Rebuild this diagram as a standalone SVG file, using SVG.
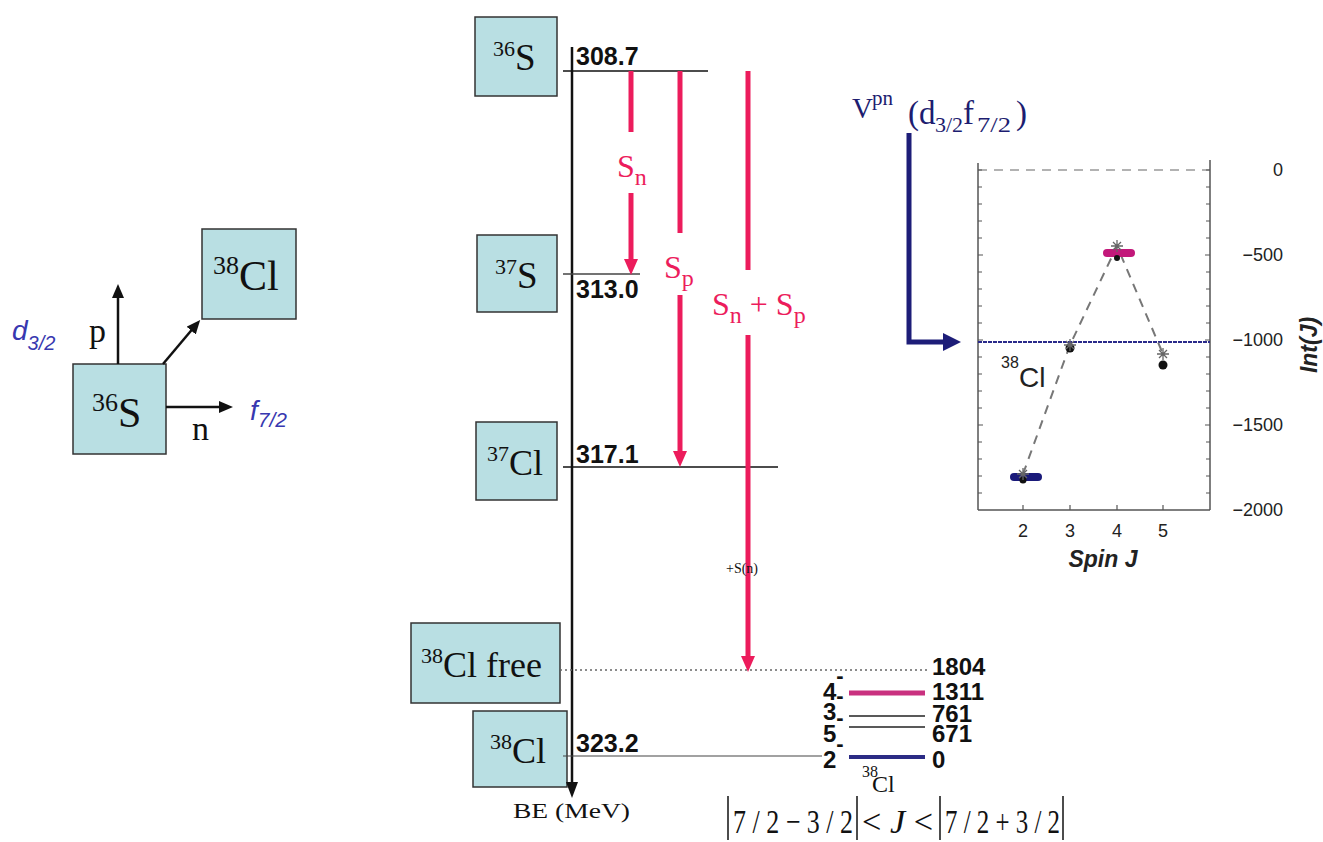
<svg xmlns="http://www.w3.org/2000/svg" width="1323" height="842" viewBox="0 0 1323 842">
<style>
.box{fill:#b9dfe3;stroke:#333;stroke-width:1.5}
.ser{font-family:"Liberation Serif","Times New Roman",serif;fill:#111}
.num{font-family:"Liberation Sans",Arial,sans-serif;font-weight:bold;font-size:25px;fill:#111}
.lvl{font-family:"Liberation Sans",Arial,sans-serif;font-weight:bold;font-size:24px;fill:#111}
.red{font-family:"Liberation Serif","Times New Roman",serif;fill:#ec1c5c}
.blu{font-family:"Liberation Sans",Arial,sans-serif;font-style:italic;fill:#3838b0}
.navy{font-family:"Liberation Serif","Times New Roman",serif;fill:#1d1d70}
.ax{font-family:"Liberation Sans",Arial,sans-serif;fill:#222}
.blk{stroke:#111;stroke-width:2.5;fill:none}
.rarr{stroke:#ec1c5c;stroke-width:5;fill:none}
.tick{stroke:#555;stroke-width:1.2}
</style>
<defs>
<marker id="ab" markerUnits="userSpaceOnUse" markerWidth="14" markerHeight="12" refX="6" refY="6" orient="auto"><path d="M0,0 L14,6 L0,12 z" fill="#111"/></marker>
<marker id="ar" markerUnits="userSpaceOnUse" markerWidth="16" markerHeight="14" refX="8" refY="7" orient="auto"><path d="M0,0 L16,7 L0,14 z" fill="#ec1c5c"/></marker>
<marker id="ak" markerUnits="userSpaceOnUse" markerWidth="16" markerHeight="12" refX="8" refY="6" orient="auto"><path d="M0,0 L16,6 L0,12 z" fill="#111"/></marker>
<marker id="an" markerUnits="userSpaceOnUse" markerWidth="18" markerHeight="18" refX="9" refY="9" orient="auto"><path d="M0,0 L18,9 L0,18 z" fill="#1d1d78"/></marker>
</defs>

<g id="left-36S">
<rect class="box" x="73" y="364" width="93" height="90"/>
<text class="ser" x="92" y="427"><tspan font-size="26" dy="-16">36</tspan><tspan font-size="42" dy="16">S</tspan></text>
</g>
<g id="left-38Cl">
<rect class="box" x="202" y="229" width="94" height="90"/>
<text class="ser" x="213" y="290"><tspan font-size="26" dy="-16">38</tspan><tspan font-size="42" dy="16">Cl</tspan></text>
</g>
<g id="left-labels">
<text class="ser" x="89" y="342" font-size="34">p</text>
<text class="ser" x="192" y="440" font-size="34">n</text>
<text class="blu" x="12" y="340" font-size="28">d<tspan font-size="20" dy="10">3/2</tspan></text>
<text class="blu" x="250" y="420" font-size="28">f<tspan font-size="21" dy="7">7/2</tspan></text>
</g>
<g id="left-connectors">
<line class="blk" x1="118" y1="364" x2="118" y2="292" marker-end="url(#ab)"/>
<line class="blk" x1="163" y1="364" x2="195" y2="326" marker-end="url(#ab)"/>
<line class="blk" x1="166" y1="407" x2="225" y2="407" marker-end="url(#ab)"/>
</g>

<g id="node-36S">
<rect class="box" x="475" y="17" width="82" height="79"/>
<text class="ser" x="493" y="70"><tspan font-size="22" dy="-14">36</tspan><tspan font-size="37" dy="14">S</tspan></text>
</g>
<g id="node-37S">
<rect class="box" x="477" y="235" width="80" height="77"/>
<text class="ser" x="495" y="288"><tspan font-size="22" dy="-14">37</tspan><tspan font-size="37" dy="14">S</tspan></text>
</g>
<g id="node-37Cl">
<rect class="box" x="476" y="422" width="81" height="78"/>
<text class="ser" x="487" y="475"><tspan font-size="22" dy="-14">37</tspan><tspan font-size="36" dy="14">Cl</tspan></text>
</g>
<g id="node-38Cl-free">
<rect class="box" x="411" y="623" width="149" height="80"/>
<text class="ser" x="421" y="677"><tspan font-size="22" dy="-14">38</tspan><tspan font-size="36" dy="14">Cl free</tspan></text>
</g>
<g id="node-38Cl">
<rect class="box" x="473" y="711" width="94" height="76"/>
<text class="ser" x="490" y="763"><tspan font-size="22" dy="-14">38</tspan><tspan font-size="36" dy="14">Cl</tspan></text>
</g>

<g id="connectors">
<line class="blk" x1="572" y1="47" x2="572" y2="790" marker-end="url(#ak)" stroke-width="2"/>
<line x1="563" y1="71" x2="708" y2="71" stroke="#111" stroke-width="1.5"/>
<line x1="563" y1="274" x2="640" y2="274" stroke="#444" stroke-width="1.5"/>
<line x1="563" y1="467" x2="778" y2="467" stroke="#111" stroke-width="1.5"/>
<line x1="560" y1="670" x2="927" y2="670" stroke="#666" stroke-width="1.5" stroke-dasharray="2,3"/>
<line x1="563" y1="756" x2="822" y2="756" stroke="#444" stroke-width="1.2"/>
<line class="rarr" x1="631" y1="71" x2="631" y2="132"/>
<line class="rarr" x1="631" y1="193" x2="631" y2="267" marker-end="url(#ar)"/>
<line class="rarr" x1="680" y1="71" x2="680" y2="233"/>
<line class="rarr" x1="680" y1="295" x2="680" y2="459" marker-end="url(#ar)"/>
<line class="rarr" x1="748" y1="71" x2="748" y2="270" stroke-width="4.5"/>
<line class="rarr" x1="748" y1="335" x2="748" y2="664" stroke-width="4.5" marker-end="url(#ar)"/>
<line x1="849" y1="693" x2="925" y2="693" stroke="#c9317f" stroke-width="5"/>
<line x1="849" y1="716" x2="925" y2="716" stroke="#222" stroke-width="1.5"/>
<line x1="849" y1="727" x2="925" y2="727" stroke="#222" stroke-width="1.5"/>
<line x1="849" y1="757" x2="925" y2="757" stroke="#2b2b85" stroke-width="4"/>
<path d="M909,133 V342 H952" fill="none" stroke="#1d1d78" stroke-width="5" marker-end="url(#an)"/>
</g>

<g id="middle-labels">
<text class="num" x="576" y="65">308.7</text>
<text class="num" x="576" y="298">313.0</text>
<text class="num" x="576" y="463">317.1</text>
<text class="num" x="576" y="752">323.2</text>
<text class="ser" x="513" y="818" font-size="21" textLength="117" lengthAdjust="spacingAndGlyphs">BE (MeV)</text>
<text class="red" x="617" y="177" font-size="32">S<tspan font-size="24" dy="8">n</tspan></text>
<text class="red" x="664" y="278" font-size="32">S<tspan font-size="24" dy="8">p</tspan></text>
<text class="red" x="712" y="315" font-size="32">S<tspan font-size="24" dy="8">n</tspan><tspan dy="-8"> + S</tspan><tspan font-size="24" dy="8">p</tspan></text>
<text class="ser" x="726" y="573" font-size="14">+S(n)</text>
</g>

<g id="level-scheme">
<text class="lvl" x="932" y="675">1804</text>
<text class="lvl" x="932" y="700">1311</text>
<text class="lvl" x="932" y="722">761</text>
<text class="lvl" x="932" y="742">671</text>
<text class="lvl" x="932" y="768">0</text>
<text class="lvl" x="823" y="700">4<tspan dy="-17" font-size="22">-</tspan></text>
<text class="lvl" x="823" y="720">3<tspan dy="-17" font-size="22">-</tspan></text>
<text class="lvl" x="823" y="742">5<tspan dy="-17" font-size="22">-</tspan></text>
<text class="lvl" x="823" y="768">2<tspan dy="-17" font-size="22">-</tspan></text>
<text class="ser" x="862" y="777" font-size="16">38</text>
<text class="ser" x="872" y="792" font-size="24">Cl</text>
</g>

<g id="formula">
<line x1="728" y1="796" x2="728" y2="840" stroke="#111" stroke-width="1.5"/>
<line x1="857" y1="796" x2="857" y2="840" stroke="#111" stroke-width="1.5"/>
<line x1="940" y1="796" x2="940" y2="840" stroke="#111" stroke-width="1.5"/>
<line x1="1063" y1="796" x2="1063" y2="840" stroke="#111" stroke-width="1.5"/>
<text class="ser" x="733" y="833" font-size="34" textLength="120" lengthAdjust="spacingAndGlyphs">7 / 2 − 3 / 2</text>
<text class="ser" x="862" y="833" font-size="34" textLength="71" lengthAdjust="spacingAndGlyphs">&lt; <tspan font-style="italic">J</tspan> &lt;</text>
<text class="ser" x="945" y="833" font-size="34" textLength="115" lengthAdjust="spacingAndGlyphs">7 / 2 + 3 / 2</text>
</g>

<g id="vpn-title">
<text class="navy" x="852" y="118" font-size="29">V</text>
<text class="navy" x="872" y="105" font-size="21">pn</text>
<text class="navy" x="908" y="124" font-size="33">(d</text>
<text class="navy" x="935" y="132" font-size="22">3/2</text>
<text class="navy" x="963" y="124" font-size="33">f</text>
<text class="navy" x="977" y="132" font-size="22" textLength="34" lengthAdjust="spacingAndGlyphs">7/2</text>
<text class="navy" x="1016" y="124" font-size="33">)</text>
</g>

<g id="chart">
<line x1="978" y1="170" x2="1210" y2="170" stroke="#999" stroke-width="1.5" stroke-dasharray="9,7"/>
<line x1="978" y1="163" x2="978" y2="510" stroke="#555" stroke-width="1.5"/>
<line x1="1210" y1="160" x2="1210" y2="510" stroke="#555" stroke-width="1.5"/>
<line x1="978" y1="510" x2="1210" y2="510" stroke="#555" stroke-width="1.5"/>
<g class="tick">
<path d="M978,170h4M978,187h4M978,204h4M978,221h4M978,238h4M978,255h5M978,272h4M978,289h4M978,306h4M978,323h4M978,340h5M978,357h4M978,374h4M978,391h4M978,408h4M978,425h5M978,442h4M978,459h4M978,476h4M978,493h4"/>
<path d="M1210,170h-4M1210,187h-4M1210,204h-4M1210,221h-4M1210,238h-4M1210,255h-5M1210,272h-4M1210,289h-4M1210,306h-4M1210,323h-4M1210,340h-5M1210,357h-4M1210,374h-4M1210,391h-4M1210,408h-4M1210,425h-5M1210,442h-4M1210,459h-4M1210,476h-4M1210,493h-4"/>
<path d="M1023,510v-5M1070,510v-5M1117,510v-5M1163,510v-5"/>
</g>
<line x1="978" y1="342" x2="1210" y2="342" stroke="#2a2a8a" stroke-width="2" stroke-dasharray="4,1"/>
<polyline points="1023,474 1070,345 1117,246 1163,354" fill="none" stroke="#777" stroke-width="2" stroke-dasharray="9,7"/>
<rect x="1010" y="473" width="32" height="8" rx="4" fill="#1a1a7a"/>
<rect x="1103" y="249" width="32" height="8" rx="4" fill="#c2187a"/>
<circle cx="1023" cy="480" r="3.5" fill="#111"/>
<circle cx="1070" cy="348" r="4.5" fill="#111"/>
<circle cx="1117" cy="258" r="3" fill="#111"/>
<circle cx="1163" cy="365" r="4.5" fill="#111"/>
<g stroke="#666" stroke-width="1.3">
<path d="M1017,474h12M1023,468v12M1019,470l8,8M1027,470l-8,8"/>
<path d="M1064,345h12M1070,339v12M1066,341l8,8M1074,341l-8,8"/>
<path d="M1111,246h12M1117,240v12M1113,242l8,8M1121,242l-8,8"/>
<path d="M1157,354h12M1163,348v12M1159,350l8,8M1167,350l-8,8"/>
</g>
<g class="ax" font-size="18" text-anchor="end">
<text x="1283" y="176">0</text>
<text x="1283" y="261">−500</text>
<text x="1283" y="346">−1000</text>
<text x="1283" y="431">−1500</text>
<text x="1283" y="516">−2000</text>
</g>
<g class="ax" font-size="18" text-anchor="middle">
<text x="1023" y="537">2</text>
<text x="1070" y="537">3</text>
<text x="1117" y="537">4</text>
<text x="1163" y="537">5</text>
</g>
<text class="ax" x="1103" y="567" text-anchor="middle" font-size="23" font-weight="bold" font-style="italic">Spin J</text>
<text class="ax" transform="translate(1317,345) rotate(-90)" text-anchor="middle" font-size="23" font-weight="bold" font-style="italic">Int(J)</text>
<text class="ax" x="1001" y="368" font-size="16">38</text>
<text class="ax" x="1019" y="387" font-size="28">Cl</text>
</g>
</svg>
